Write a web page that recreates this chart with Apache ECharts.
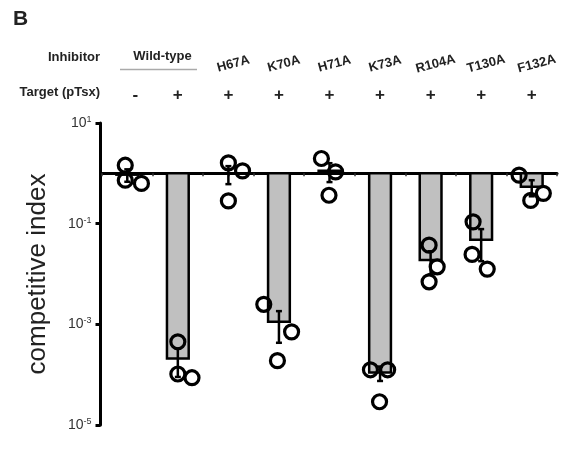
<!DOCTYPE html>
<html><head><meta charset="utf-8">
<script src="https://cdn.jsdelivr.net/npm/echarts@6/dist/echarts.min.js"></script>
<style>html,body{margin:0;padding:0;background:#fff}#c{width:563px;height:449px}</style>
</head><body><div id="c"></div>
<script>
// ---- data ----
const groups = ['WT-', 'WT+', 'H67A', 'K70A', 'H71A', 'K73A', 'R104A', 'T130A', 'F132A'];
const inhibitorNames = ['H67A', 'K70A', 'H71A', 'K73A', 'R104A', 'T130A', 'F132A']; // groups 2..8
const wildTypeLabel = 'Wild-type';
const targetSigns = ['-', '+', '+', '+', '+', '+', '+', '+', '+'];
const means = [0.94, 2.1e-4, 1.0, 1.13e-3, 1.13, 1.1e-4, 0.019, 0.048, 0.54];
const sems  = [0.26, 1.2e-4, 0.39, 7.0e-4, 0.46, 3.5e-5, 9.2e-3, 0.030, 0.19];
const points = [
  [1.45, 0.73, 0.63],
  [4.5e-4, 1.03e-4, 0.87e-4],
  [1.61, 1.12, 0.283],
  [2.5e-3, 7.1e-4, 1.9e-4],
  [1.97, 1.07, 0.367],
  [1.25e-4, 1.25e-4, 2.9e-5],
  [0.0374, 0.0139, 0.0070],
  [0.1086, 0.0245, 0.0125],
  [0.92, 0.40, 0.29]
];
const jitter = [
  [-0.04, -0.04, 0.28],
  [0, 0, 0.28],
  [0, 0.28, 0],
  [-0.3, 0.25, -0.03],
  [-0.16, 0.12, -0.01],
  [-0.19, 0.15, -0.01],
  [-0.03, 0.13, -0.03],
  [-0.16, -0.18, 0.12],
  [-0.25, 0.23, -0.02]
];
const yTickValues = [1e-5, 1e-3, 1e-1, 10];
const yMin = 1e-5, yMax = 10, baseline = 1;

// ---- chart ----
const FONT = '"Liberation Sans", Arial, Helvetica, sans-serif';
const chart = echarts.init(document.getElementById('c'), null, {renderer: 'canvas'});
const gridTop = 123, gridBottom = 24, gridH = 449 - gridTop - gridBottom;
const decades = Math.log10(yMax) - Math.log10(yMin);
const baseOffset = -gridH * (Math.log10(baseline) - Math.log10(yMin)) / decades;

const barData = means.map((m, i) => [i, m]);
const errData = means.map((m, i) => [i, m, sems[i]]);
const ptData = [];
points.forEach((arr, i) => arr.forEach((v, k) => ptData.push([i + jitter[i][k], v])));

chart.setOption({
  animation: false,
  grid: {left: 102, right: 6, top: gridTop, bottom: gridBottom},
  xAxis: {
    type: 'value', min: -0.5, max: 8.5, interval: 0.5,
    position: 'bottom', offset: baseOffset,
    axisLine: {show: true, onZero: false, lineStyle: {color: '#000', width: 3}},
    axisTick: {show: true, length: 3, lineStyle: {color: '#333', width: 1.5}},
    axisLabel: {show: false},
    splitLine: {show: false}
  },
  yAxis: {
    type: 'log', logBase: 10, min: yMin, max: yMax, offset: 1.5,
    name: 'competitive index', nameLocation: 'middle', nameRotate: 90, nameGap: 50,
    nameTextStyle: {fontSize: 26, color: '#222', fontFamily: FONT},
    axisLine: {show: true, onZero: false, lineStyle: {color: '#000', width: 3}},
    axisTick: {show: true, length: 5, customValues: yTickValues, lineStyle: {color: '#000', width: 3}},
    axisLabel: {
      show: true, margin: 9, customValues: yTickValues,
      formatter: v => '{b|10}{s|' + Math.round(Math.log10(v)) + '}',
      rich: {
        b: {fontSize: 14, color: '#333', fontFamily: FONT, lineHeight: 16},
        s: {fontSize: 9, color: '#333', fontFamily: FONT, verticalAlign: 'top', lineHeight: 10}
      }
    },
    splitLine: {show: false},
    minorTick: {show: false}
  },
  series: [
    {
      type: 'custom', z: 3, data: barData,
      renderItem(params, api) {
        const x = api.value(0), v = api.value(1);
        const p0 = api.coord([x, baseline]), p1 = api.coord([x, v]);
        const w = (api.coord([x + 0.5, baseline])[0] - api.coord([x - 0.5, baseline])[0]) * 0.43;
        return {type: 'rect',
          shape: {x: p0[0] - w / 2, y: Math.min(p0[1], p1[1]), width: w, height: Math.abs(p1[1] - p0[1])},
          style: {fill: '#c0c0c0', stroke: '#000', lineWidth: 2.5}};
      }
    },
    {
      type: 'custom', z: 4, data: errData,
      renderItem(params, api) {
        const x = api.value(0), m = api.value(1), s = api.value(2);
        const pLo = api.coord([x, m - s]), pHi = api.coord([x, m + s]);
        const cx = pLo[0], cap = 3;
        const st = {stroke: '#000', lineWidth: 2.5};
        return {type: 'group', children: [
          {type: 'line', shape: {x1: cx, y1: pLo[1], x2: cx, y2: pHi[1]}, style: st},
          {type: 'line', shape: {x1: cx - cap, y1: pLo[1], x2: cx + cap, y2: pLo[1]}, style: st},
          {type: 'line', shape: {x1: cx - cap, y1: pHi[1], x2: cx + cap, y2: pHi[1]}, style: st}
        ]};
      }
    },
    {
      type: 'scatter', z: 5, data: ptData, symbol: 'circle', symbolSize: 14,
      itemStyle: {color: 'rgba(0,0,0,0)', borderColor: '#000', borderWidth: 3.2, opacity: 1},
      emphasis: {disabled: true}
    }
  ]
});

// ---- header texts positioned on the category centres ----
const cx = i => chart.convertToPixel({xAxisIndex: 0}, i);
const bold = size => 'bold ' + size + 'px ' + FONT;
const g = [];
g.push({type: 'text', x: 13, y: 19, style: {text: 'B', font: bold(21), fill: '#222', textAlign: 'left', textVerticalAlign: 'middle'}});
g.push({type: 'text', x: 100, y: 57, style: {text: 'Inhibitor', font: bold(13), fill: '#222', textAlign: 'right', textVerticalAlign: 'middle'}});
g.push({type: 'text', x: 100, y: 92, style: {text: 'Target (pTsx)', font: bold(13), fill: '#222', textAlign: 'right', textVerticalAlign: 'middle'}});
g.push({type: 'text', x: (cx(0) + cx(1)) / 2 + 10, y: 56, style: {text: wildTypeLabel, font: bold(13), fill: '#222', textAlign: 'center', textVerticalAlign: 'middle'}});
g.push({type: 'line', shape: {x1: 120, y1: 69.5, x2: 197, y2: 69.5}, style: {stroke: '#aaa', lineWidth: 1.5}});
inhibitorNames.forEach((n, k) => {
  g.push({type: 'text', x: cx(k + 2) + 5, y: 64, rotation: 15 * Math.PI / 180,
    style: {text: n, font: bold(13), fill: '#222', textAlign: 'center', textVerticalAlign: 'middle'}});
});
targetSigns.forEach((s, i) => {
  g.push({type: 'text', x: cx(i) + (s === '-' ? 8 : 0), y: 95,
    style: {text: s, font: bold(17), fill: '#222', textAlign: 'center', textVerticalAlign: 'middle'}});
});
chart.setOption({graphic: g});
</script>
</body></html>
